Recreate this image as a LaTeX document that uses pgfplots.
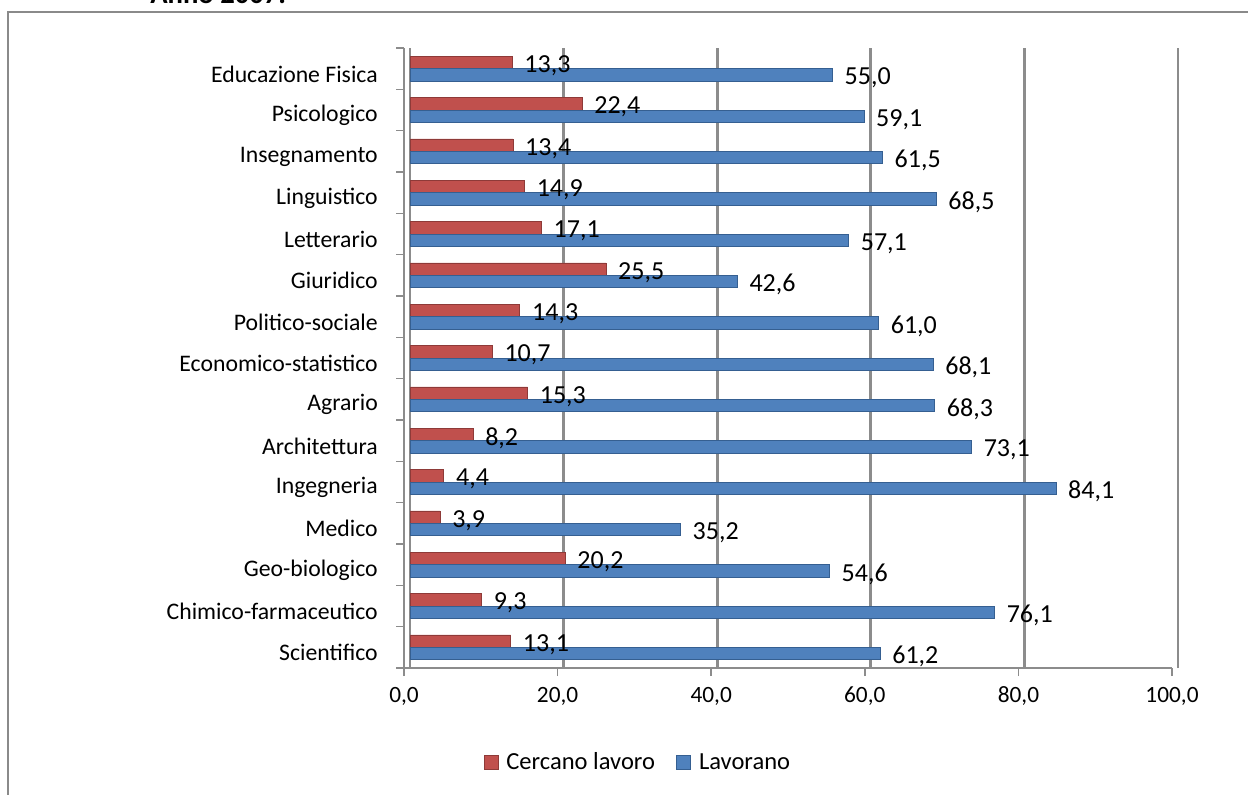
\documentclass[border=0pt]{standalone}
\usepackage{fontspec}
\setmainfont{Carlito}
\usepackage{pgfplots}
\pgfplotsset{compat=1.18}

\definecolor{rosso}{HTML}{C0504D}
\definecolor{rossoscuro}{HTML}{8E3A38}
\definecolor{blu}{HTML}{4F81BD}
\definecolor{bluscuro}{HTML}{355F91}
\definecolor{griglia}{HTML}{8C8C8C}
\definecolor{cornice}{HTML}{8A8A8A}

\begin{document}
\begin{tikzpicture}
\useasboundingbox (0,0) rectangle (936pt,595.5pt);
% cornice del grafico (tagliata a destra e in basso)
\draw[line width=1.5pt, cornice] (6pt,-20pt) -- (6pt,586.5pt) -- (960pt,586.5pt);
\node[anchor=base west, inner sep=0pt, font=\fontsize{21.5}{24}\selectfont\bfseries] at (112.5pt,592.5pt) {Anno 2007.};

\begin{axis}[
  at={(303pt,94.5pt)}, anchor=south west,
  scale only axis, width=576pt, height=465pt,
  xbar, bar width=0.3,
  xmin=0, xmax=100, ymin=-0.5, ymax=14.5,
  axis x line*=bottom, axis y line*=left,
  axis line style={-, line width=1.5pt, griglia},
  tick align=outside, major tick length=6pt, minor tick length=6pt,
  tick style={line width=1.2pt, griglia},
  xtick={0,20,...,100},
  xmajorgrids,
  grid style={line width=2.2pt, griglia, xshift=4.5pt},
  ytick={0,...,14},
  yticklabels={Scientifico,Chimico-farmaceutico,Geo-biologico,Medico,Ingegneria,Architettura,Agrario,Economico-statistico,Politico-sociale,Giuridico,Letterario,Linguistico,Insegnamento,Psicologico,Educazione Fisica},
  minor ytick={-0.5,0.5,...,14.5},
  major y tick style={draw=none},
  yticklabel style={inner sep=0pt, xshift=-13.5pt, yshift=-4pt, font=\fontsize{17.8}{20}\selectfont},
  xticklabel style={inner sep=0pt, yshift=-8pt, font=\fontsize{17.5}{20}\selectfont},
  /pgf/number format/fixed zerofill, /pgf/number format/precision=1,
  /pgf/number format/use comma, /pgf/number format/assume math mode=true,
  point meta=x,
  nodes near coords,
  every node near coord/.append style={anchor=west, inner sep=0pt, xshift=9pt, yshift=-2.5pt, font=\fontsize{19.5}{22}\selectfont, black},
  legend style={at={(0.305,-0.152)}, anchor=center, draw=none, legend columns=-1,
    font=\fontsize{18.4}{20}\selectfont,
    /tikz/every odd column/.append style={column sep=4pt},
    /tikz/every even column/.append style={column sep=14pt}},
  legend image code/.code={\fill[#1] (0pt,-5pt) rectangle (10.5pt,5.5pt);},
]
\addplot[fill=rosso, draw=rossoscuro, line width=0.5pt, bar shift=0.15, xshift=4.5pt]
  coordinates {(13.1,0)(9.3,1)(20.2,2)(3.9,3)(4.4,4)(8.2,5)(15.3,6)(10.7,7)(14.3,8)(25.5,9)(17.1,10)(14.9,11)(13.4,12)(22.4,13)(13.3,14)};
\addplot[fill=blu, draw=bluscuro, line width=0.5pt, bar shift=-0.15, xshift=4.5pt]
  coordinates {(61.2,0)(76.1,1)(54.6,2)(35.2,3)(84.1,4)(73.1,5)(68.3,6)(68.1,7)(61.0,8)(42.6,9)(57.1,10)(68.5,11)(61.5,12)(59.1,13)(55.0,14)};
\legend{Cercano lavoro, Lavorano}
\end{axis}
\end{tikzpicture}
\end{document}
